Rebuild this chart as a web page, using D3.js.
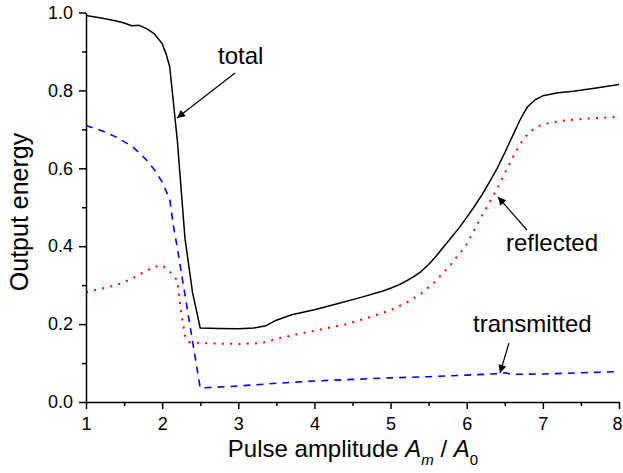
<!DOCTYPE html>
<html>
<head>
<meta charset="utf-8">
<script src="https://cdn.jsdelivr.net/npm/d3@7"></script>
<style>
  html, body { margin: 0; padding: 0; background: #fff; }
  svg { display: block; font-family: "Liberation Sans", Arial, sans-serif; }
</style>
</head>
<body>
<svg id="chart" width="623" height="473"></svg>
<script>
// ---- data ----
const totalX = [1.0,1.2,1.4,1.5,1.6,1.7,1.8,1.9,2.0,2.05,2.1,2.2,2.3,2.4,2.5,2.75,3.0,3.2,3.35,3.5,3.7,4.0,4.3,4.6,4.9,5.0,5.1,5.2,5.3,5.4,5.5,5.6,5.7,5.8,5.9,6.0,6.1,6.2,6.3,6.4,6.5,6.6,6.7,6.75,6.8,6.9,7.0,7.2,7.4,7.7,8.0];
const totalY = [0.992,0.986,0.978,0.973,0.966,0.967,0.958,0.945,0.92,0.895,0.86,0.67,0.42,0.28,0.19,0.189,0.188,0.19,0.195,0.21,0.224,0.237,0.252,0.268,0.285,0.292,0.3,0.31,0.321,0.335,0.353,0.375,0.399,0.423,0.447,0.474,0.502,0.532,0.565,0.6,0.64,0.682,0.724,0.742,0.758,0.776,0.786,0.794,0.798,0.806,0.815];

const reflX = [1.0,1.2,1.4,1.6,1.8,1.9,2.0,2.1,2.2,2.25,2.3,2.35,2.5,2.75,3.0,3.3,3.5,3.75,4.1,4.4,4.75,5.0,5.2,5.4,5.6,5.8,6.0,6.2,6.4,6.6,6.7,6.8,6.9,7.0,7.25,7.6,8.0];
const reflY = [0.282,0.291,0.30,0.316,0.338,0.347,0.351,0.335,0.312,0.23,0.17,0.154,0.151,0.15,0.149,0.151,0.162,0.173,0.187,0.199,0.219,0.236,0.254,0.278,0.312,0.355,0.405,0.478,0.548,0.626,0.662,0.688,0.704,0.713,0.722,0.728,0.732];

const transX = [1.0,1.2,1.4,1.6,1.7,1.8,1.9,2.0,2.1,2.15,2.2,2.3,2.4,2.5,3.0,3.5,4.0,4.5,5.0,5.5,6.0,6.45,6.5,6.6,7.0,7.5,8.0];
const transY = [0.71,0.697,0.68,0.657,0.64,0.62,0.596,0.565,0.52,0.45,0.395,0.275,0.155,0.036,0.041,0.048,0.054,0.058,0.062,0.065,0.069,0.073,0.075,0.071,0.072,0.075,0.078];

const xTicks = [1,2,3,4,5,6,7,8];
const xMinorTicks = [1.5,2.5,3.5,4.5,5.5,6.5,7.5];
const yTicks = [0.0,0.2,0.4,0.6,0.8,1.0];
const yMinorTicks = [0.1,0.3,0.5,0.7,0.9];

const labels = ["total", "reflected", "transmitted"];

// ---- layout ----
const svg = d3.select("#chart");
const mLeft = 86, mRight = 619, mTop = 12.5, mBottom = 402;
const x = d3.scaleLinear().domain([1, 8]).range([mLeft, mRight]);
const y = d3.scaleLinear().domain([0, 1]).range([mBottom, mTop]);

const font = '"Liberation Sans", Arial, sans-serif';

svg.append("defs").append("marker")
  .attr("id", "arr")
  .attr("viewBox", "0 0 10 10")
  .attr("refX", 10).attr("refY", 5)
  .attr("markerWidth", 11).attr("markerHeight", 8)
  .attr("markerUnits", "userSpaceOnUse")
  .attr("orient", "auto")
  .append("path").attr("d", "M0,0 L10,5 L0,10 z").attr("fill", "#000");

const line = (xs, ys) => d3.line().x((d, i) => x(xs[i])).y((d, i) => y(ys[i]))(ys);

svg.append("path").attr("d", line(transX, transY))
  .attr("fill", "none").attr("stroke", "#0000ff").attr("stroke-width", 1.6)
  .attr("stroke-dasharray", "7,6");
svg.append("path").attr("d", line(reflX, reflY))
  .attr("fill", "none").attr("stroke", "#ff0000").attr("stroke-width", 2)
  .attr("stroke-dasharray", "2,6.3");
svg.append("path").attr("d", line(totalX, totalY))
  .attr("fill", "none").attr("stroke", "#000").attr("stroke-width", 1.5)
  .attr("stroke-linejoin", "round");

svg.append("g").attr("transform", `translate(0,${mBottom})`)
  .call(d3.axisBottom(x).tickValues(xTicks).tickFormat(d3.format("d"))
    .tickSize(7).tickSizeOuter(0).tickPadding(8))
  .selectAll(".tick text").filter(d => d === 8).attr("dx", -2);
svg.append("g").attr("transform", `translate(0,${mBottom})`)
  .call(d3.axisBottom(x).tickValues(xMinorTicks).tickFormat("")
    .tickSize(4).tickSizeOuter(0))
  .select(".domain").remove();

svg.append("g").attr("transform", `translate(${mLeft},0)`)
  .call(d3.axisLeft(y).tickValues(yTicks).tickFormat(d3.format(".1f"))
    .tickSize(7).tickSizeOuter(0).tickPadding(6));
svg.append("g").attr("transform", `translate(${mLeft},0)`)
  .call(d3.axisLeft(y).tickValues(yMinorTicks).tickFormat("")
    .tickSize(4).tickSizeOuter(0))
  .select(".domain").remove();

svg.selectAll(".domain, .tick line").attr("stroke", "#000").attr("stroke-width", 1.5);
svg.selectAll(".tick text").attr("font-family", font).attr("font-size", 18).attr("fill", "#000");

svg.append("text")
  .attr("transform", "translate(28,212) rotate(-90)")
  .attr("text-anchor", "middle")
  .attr("font-family", font).attr("font-size", 25)
  .text("Output energy");

const xt = svg.append("text")
  .attr("x", 353).attr("y", 457)
  .attr("text-anchor", "middle")
  .attr("font-family", font).attr("font-size", 24);
xt.append("tspan").text("Pulse amplitude ");
xt.append("tspan").attr("font-style", "italic").text("A");
xt.append("tspan").attr("font-style", "italic").attr("font-size", 15).attr("dy", 8).text("m");
xt.append("tspan").attr("dy", -8).text(" / ");
xt.append("tspan").attr("font-style", "italic").text("A");
xt.append("tspan").attr("font-size", 15).attr("dy", 8).text("0");

const annText = [
  {t: labels[0], px: 218, py: 64},
  {t: labels[1], px: 506, py: 251},
  {t: labels[2], px: 473, py: 332}
];
const annArrows = [
  {x1: 235, y1: 73, x2: 177, y2: 118},
  {x1: 527, y1: 230, x2: 498, y2: 197},
  {x1: 509, y1: 343, x2: 500, y2: 373}
];
annText.forEach(a => svg.append("text").attr("x", a.px).attr("y", a.py)
  .attr("font-family", font).attr("font-size", 24).text(a.t));
annArrows.forEach(a => svg.append("line")
  .attr("x1", a.x1).attr("y1", a.y1).attr("x2", a.x2).attr("y2", a.y2)
  .attr("stroke", "#000").attr("stroke-width", 1.2)
  .attr("marker-end", "url(#arr)"));
</script>
</body>
</html>
